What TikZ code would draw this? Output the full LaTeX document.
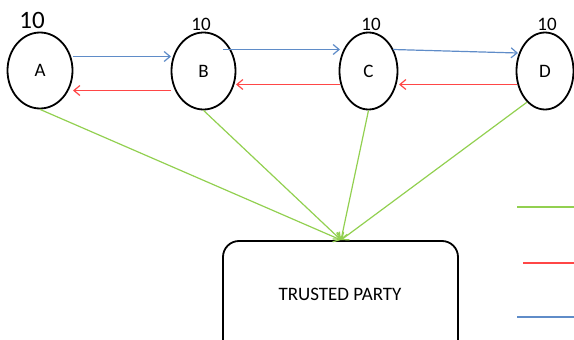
\documentclass[tikz,border=0pt]{standalone}
\usepackage{fontspec}
\setmainfont{Carlito}
\usetikzlibrary{arrows.meta,shapes.geometric}
\definecolor{lblue}{RGB}{95,140,200}
\definecolor{lred}{RGB}{255,70,70}
\definecolor{lgreen}{RGB}{146,208,80}
\begin{document}
\begin{tikzpicture}[x=1pt,y=-1pt,
  lab/.style={font=\fontsize{19}{21}\selectfont,inner sep=0pt},
  blueln/.style={draw=lblue,line width=1.2pt},
  redln/.style={draw=lred,line width=1.2pt},
  greenln/.style={draw=lgreen,line width=1.2pt},
  legln/.style={line width=1.8pt},
  tip/.style={-{Straight Barb[length=6pt,width=10pt]}}
]
\useasboundingbox (0,0) rectangle (574,340);
\node[draw,line width=1.8pt,ellipse,minimum width=65pt,minimum height=76pt,lab] (A) at (40,70.5) {A};
\node[draw,line width=1.8pt,ellipse,minimum width=64pt,minimum height=77pt,lab] (B) at (203.5,71) {B};
\node[draw,line width=1.8pt,ellipse,minimum width=58pt,minimum height=77pt,lab] (C) at (368.5,71) {C};
\node[draw,line width=1.8pt,ellipse,minimum width=57pt,minimum height=77pt,lab] (D) at (545,71) {D};
\node[font=\fontsize{25}{28}\selectfont,inner sep=0pt] (nA) at (32,20) {10};
\node[lab] (nB) at (201,24) {10};
\node[lab] (nC) at (371,24) {10};
\node[lab] (nD) at (547,24) {10};
\draw[line width=1.8pt,rounded corners=16pt] (223,241) -- (458,241) -- (458,360) -- (223,360) -- cycle;
\node[lab] (T) at (340,294) {TRUSTED PARTY};
\coordinate (tp) at (341,240);
% blue
\coordinate (a1) at (73,56.5); \coordinate (b1) at (171,56.5);
\draw[blueln,tip] (a1) -- (b1);
\coordinate (b2) at (223,49.5); \coordinate (c2) at (340,49.5);
\draw[blueln,tip] (b2) -- (c2);
\coordinate (c3) at (393,49.5); \coordinate (d3) at (518,53);
\draw[blueln,tip] (c3) -- (d3);
% red
\coordinate (b4) at (171,90.5); \coordinate (a4) at (73,90.5);
\draw[redln,tip] (b4) -- (a4);
\coordinate (c5) at (340,84.5); \coordinate (b5) at (236,84.5);
\draw[redln,tip] (c5) -- (b5);
\coordinate (d6) at (517,84.5); \coordinate (c6) at (399,84.5);
\draw[redln,tip] (d6) -- (c6);
% green
\draw[greenln,tip] (A.south) -- (tp);
\draw[greenln,tip] (B.south) -- (tp);
\draw[greenln,tip] (C.south) -- (tp);
\draw[greenln,tip] (D.-120) -- (tp);
% legend
\coordinate (g1) at (517,207); \coordinate (g2) at (574,207);
\draw[greenln,legln] (g1) -- (g2);
\coordinate (r1) at (523,263); \coordinate (r2) at (574,263);
\draw[redln,legln] (r1) -- (r2);
\coordinate (l1) at (517,317); \coordinate (l2) at (574,317);
\draw[blueln,legln] (l1) -- (l2);
\end{tikzpicture}
\end{document}
